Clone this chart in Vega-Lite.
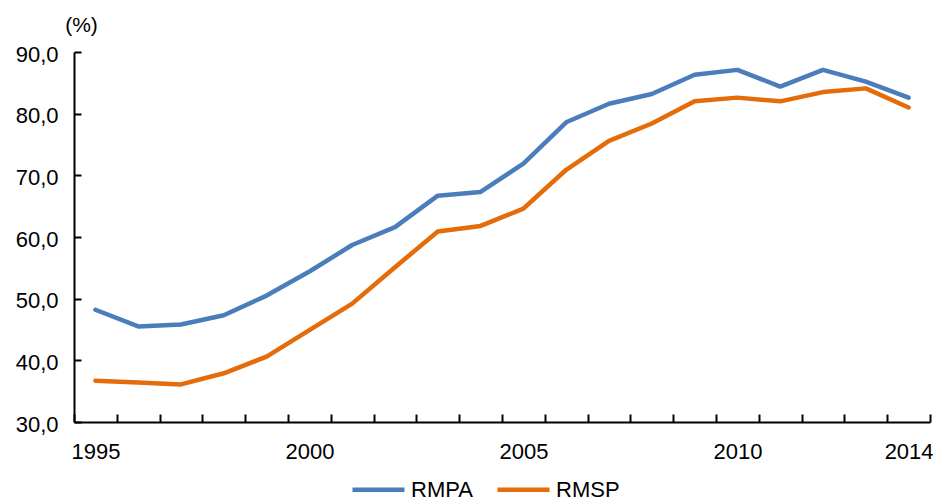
{
  "$schema": "https://vega.github.io/schema/vega-lite/v6.json",
  "autosize": "none",
  "width": 856,
  "height": 370,
  "padding": {"left": 74, "top": 52, "right": 3, "bottom": 75},
  "background": "white",
  "config": {
    "font": "Liberation Sans",
    "view": {"stroke": null},
    "axis": {
      "grid": false,
      "domainColor": "black",
      "domainWidth": 2,
      "tickColor": "black",
      "tickWidth": 2,
      "labelColor": "black",
      "labelFontSize": 22,
      "titleColor": "black",
      "titleFontWeight": "normal"
    }
  },
  "data": {
    "values": [
      {"year": 1995, "series": "RMPA", "value": 48.2},
      {"year": 1996, "series": "RMPA", "value": 45.5},
      {"year": 1997, "series": "RMPA", "value": 45.8},
      {"year": 1998, "series": "RMPA", "value": 47.3},
      {"year": 1999, "series": "RMPA", "value": 50.5},
      {"year": 2000, "series": "RMPA", "value": 54.4},
      {"year": 2001, "series": "RMPA", "value": 58.7},
      {"year": 2002, "series": "RMPA", "value": 61.6},
      {"year": 2003, "series": "RMPA", "value": 66.7},
      {"year": 2004, "series": "RMPA", "value": 67.3},
      {"year": 2005, "series": "RMPA", "value": 71.9},
      {"year": 2006, "series": "RMPA", "value": 78.6},
      {"year": 2007, "series": "RMPA", "value": 81.6},
      {"year": 2008, "series": "RMPA", "value": 83.2},
      {"year": 2009, "series": "RMPA", "value": 86.3},
      {"year": 2010, "series": "RMPA", "value": 87.1},
      {"year": 2011, "series": "RMPA", "value": 84.4},
      {"year": 2012, "series": "RMPA", "value": 87.1},
      {"year": 2013, "series": "RMPA", "value": 85.2},
      {"year": 2014, "series": "RMPA", "value": 82.6},
      {"year": 1995, "series": "RMSP", "value": 36.7},
      {"year": 1996, "series": "RMSP", "value": 36.4},
      {"year": 1997, "series": "RMSP", "value": 36.1},
      {"year": 1998, "series": "RMSP", "value": 37.9},
      {"year": 1999, "series": "RMSP", "value": 40.6},
      {"year": 2000, "series": "RMSP", "value": 44.9},
      {"year": 2001, "series": "RMSP", "value": 49.2},
      {"year": 2002, "series": "RMSP", "value": 55.1},
      {"year": 2003, "series": "RMSP", "value": 60.9},
      {"year": 2004, "series": "RMSP", "value": 61.8},
      {"year": 2005, "series": "RMSP", "value": 64.6},
      {"year": 2006, "series": "RMSP", "value": 70.9},
      {"year": 2007, "series": "RMSP", "value": 75.6},
      {"year": 2008, "series": "RMSP", "value": 78.4},
      {"year": 2009, "series": "RMSP", "value": 82.0},
      {"year": 2010, "series": "RMSP", "value": 82.6},
      {"year": 2011, "series": "RMSP", "value": 82.0},
      {"year": 2012, "series": "RMSP", "value": 83.5},
      {"year": 2013, "series": "RMSP", "value": 84.1},
      {"year": 2014, "series": "RMSP", "value": 81.0}
    ]
  },
  "mark": {"type": "line", "strokeWidth": 4.5, "strokeCap": "round", "strokeJoin": "round"},
  "encoding": {
    "x": {
      "field": "year",
      "type": "quantitative",
      "scale": {"domain": [1994.5, 2014.5], "nice": false, "zero": false},
      "axis": {
        "title": null,
        "values": [1994.5, 1995.5, 1996.5, 1997.5, 1998.5, 1999.5, 2000.5, 2001.5, 2002.5, 2003.5, 2004.5, 2005.5, 2006.5, 2007.5, 2008.5, 2009.5, 2010.5, 2011.5, 2012.5, 2013.5, 2014.5],
        "labelExpr": "indexof([1994.5, 1999.5, 2004.5, 2009.5, 2013.5], datum.value) >= 0 ? format(datum.value + 0.5, 'd') : ''",
        "labelOffset": 21.4,
        "labelOverlap": false,
        "labelBound": false,
        "labelFlush": false,
        "tickSize": -8,
        "labelPadding": 27
      }
    },
    "y": {
      "field": "value",
      "type": "quantitative",
      "scale": {"domain": [30, 90], "nice": false, "zero": false},
      "axis": {
        "values": [30, 40, 50, 60, 70, 80, 90],
        "labelExpr": "replace(format(datum.value, '.1f'), '.', ',')",
        "labelOffset": 2,
        "tickSize": -7,
        "labelPadding": 23,
        "title": "(%)",
        "titleAngle": 0,
        "titleFontSize": 21,
        "titleAlign": "center",
        "titleBaseline": "alphabetic",
        "titleX": 7,
        "titleY": -21
      }
    },
    "color": {
      "field": "series",
      "type": "nominal",
      "scale": {"domain": ["RMPA", "RMSP"], "range": ["#4a7ebb", "#e46c0a"]},
      "legend": {
        "title": null,
        "orient": "none",
        "direction": "horizontal",
        "legendX": 276,
        "legendY": 409,
        "symbolType": "stroke",
        "symbolSize": 2704,
        "symbolStrokeWidth": 4.5,
        "labelFontSize": 22,
        "labelColor": "black",
        "labelOffset": 4,
        "columnPadding": 15
      }
    }
  }
}
